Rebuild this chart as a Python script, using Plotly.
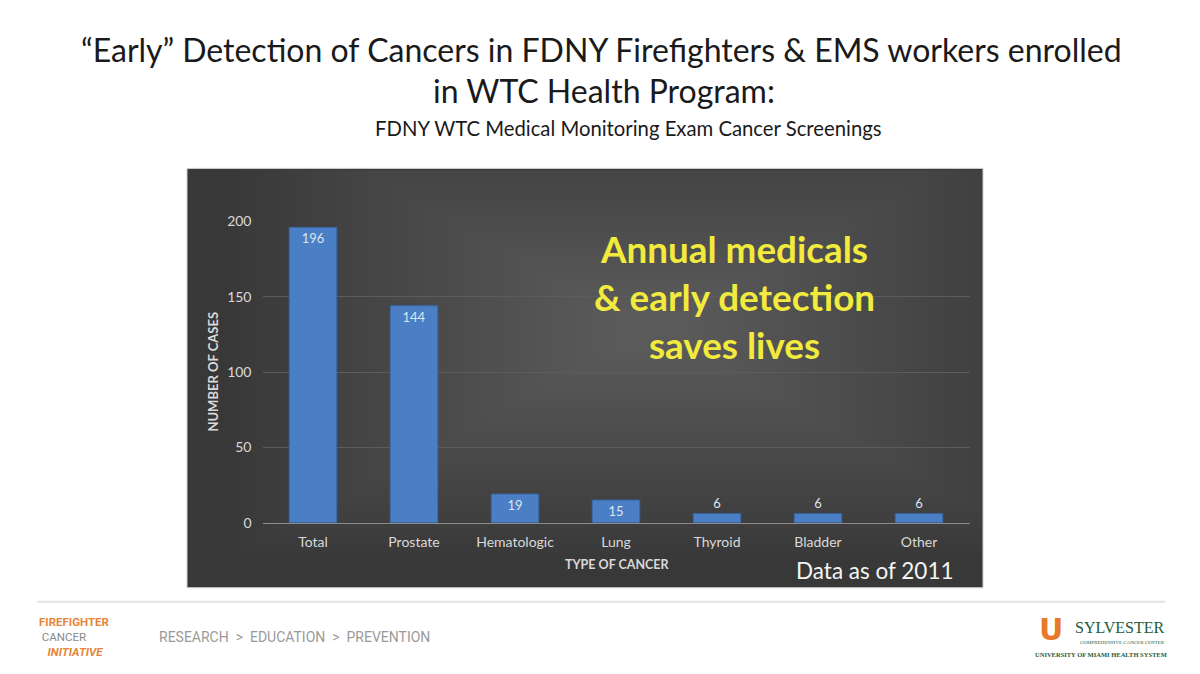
import plotly.graph_objects as go

categories = ["Total", "Prostate", "Hematologic", "Lung", "Thyroid", "Bladder", "Other"]
cases = [196, 144, 19, 15, 6, 6, 6]
y_ticks = [0, 50, 100, 150, 200]

# page geometry: the body adds a margin around the figure and the capture is
# slightly compressed vertically, so map target page pixels to figure pixels
OFF_X = 8
KY, TY = 0.9734, 18.2
W, H = 1184, 658

def px(x):
    return (x - OFF_X) / W

def py(y):
    f = y / KY - TY
    return (H - f) / H

fig = go.Figure()

text_pos = ["inside" if v >= 12 else "outside" for v in cases]

fig.add_trace(go.Bar(
    x=categories,
    y=cases,
    text=[str(v) for v in cases],
    textposition=text_pos,
    insidetextanchor="end",
    textangle=0,
    constraintext="none",
    cliponaxis=False,
    textfont=dict(family="Lato", size=13, color="#dce4ef"),
    marker=dict(color="#4a7fc6", line=dict(color="#3a68a8", width=1)),
    width=0.47,
    hoverinfo="x+y",
))

shapes = []
# dark chart panel with soft radial-ish highlight
x0, y0, x1, y1 = 187, 169, 983, 588
shapes.append(dict(type="rect", xref="paper", yref="paper", layer="below",
                   x0=px(x0), x1=px(x1), y0=py(y1), y1=py(y0),
                   fillcolor="#383838", line=dict(color="#d0d0d0", width=1)))
cx, cy = 650, 330
steps = 34
for i in range(steps):
    hw = 420 - i * 11.5
    hh = 230 - i * 6.3
    shapes.append(dict(type="rect", xref="paper", yref="paper", layer="below",
                       x0=px(max(x0 + 1, cx - hw)), x1=px(min(x1 - 1, cx + hw)),
                       y0=py(min(y1 - 1, cy + hh)), y1=py(max(y0 + 1, cy - hh)),
                       fillcolor="#ffffff", opacity=0.0095, line=dict(width=0)))
# footer separator line
shapes.append(dict(type="line", xref="paper", yref="paper",
                   x0=px(37), x1=px(1165), y0=py(602), y1=py(602),
                   line=dict(color="#e3e3e3", width=2)))

annotations = [
    dict(text="\u201cEarly\u201d Detection of Cancers in FDNY Firefighters &amp; EMS workers enrolled",
         x=px(601), y=py(50), font=dict(family="Lato", size=32, color="#1a1a1a")),
    dict(text="in WTC Health Program:",
         x=px(604), y=py(91), font=dict(family="Lato", size=32, color="#1a1a1a")),
    dict(text="FDNY WTC Medical Monitoring Exam Cancer Screenings",
         x=px(628), y=py(129), font=dict(family="Lato", size=20.3, color="#1a1a1a")),
    dict(text="<b>Annual medicals<br>&amp; early detection<br>saves lives</b>",
         x=px(734), y=py(297), font=dict(family="Lato", size=36.8, color="#f2ea3c"),
         align="center"),
    dict(text="<b>NUMBER OF CASES</b>", textangle=-90,
         x=px(213), y=py(372), font=dict(family="Lato", size=13, color="#d9d9d9")),
    dict(text="<b>TYPE OF CANCER</b>",
         x=px(617), y=py(565), font=dict(family="Lato", size=12.5, color="#d9d9d9")),
    dict(text="Data as of 2011",
         x=px(875), y=py(571), font=dict(family="Lato", size=22.5, color="#f4f4f4")),
    dict(text=("<b><span style='color:#e8843a'>FIREFIGHTER</span></b><br>"
               "&nbsp;<span style='color:#8a8a8a'>CANCER</span><br>"
               "&nbsp;&nbsp;&nbsp;<b><i><span style='color:#e8843a'>INITIATIVE</span></i></b>"),
         x=px(37), y=py(637), xanchor="left", align="left",
         font=dict(family="Roboto", size=11.5, color="#e8843a")),
    dict(text="RESEARCH  &gt;  EDUCATION  &gt;  PREVENTION", x=px(157), y=py(637), xanchor="left",
         font=dict(family="Roboto", size=14, color="#9a9a9a")),
    dict(text="<b>U</b>", x=px(1051), y=py(630),
         font=dict(family="DejaVu Sans", size=30, color="#e8792a")),
    dict(text="SYLVESTER", x=px(1073), y=py(628), xanchor="left",
         font=dict(family="Liberation Serif", size=16, color="#1e5b3a")),
    dict(text="COMPREHENSIVE CANCER CENTER", x=px(1078), y=py(643), xanchor="left",
         font=dict(family="Liberation Serif", size=5, color="#1e5b3a")),
    dict(text="<b>UNIVERSITY OF MIAMI HEALTH SYSTEM</b>", x=px(1033), y=py(655), xanchor="left",
         font=dict(family="Liberation Serif", size=6.5, color="#1e5b3a")),
]
for a in annotations:
    a.update(xref="paper", yref="paper", showarrow=False)
    a.setdefault("xanchor", "center")
    a.setdefault("yanchor", "middle")

fig.update_layout(
    width=W, height=H,
    margin=dict(l=0, r=0, t=0, b=0),
    paper_bgcolor="#ffffff",
    plot_bgcolor="rgba(0,0,0,0)",
    showlegend=False,
    shapes=shapes,
    annotations=annotations,
    xaxis=dict(
        domain=[px(262.5), px(969.5)],
        showgrid=False, zeroline=False,
        showline=True, linecolor="#8c8c8c", linewidth=1,
        tickfont=dict(family="Lato", size=14, color="#d9d9d9"),
        ticks="", ticklabelstandoff=7,
        fixedrange=True,
    ),
    yaxis=dict(
        domain=[py(523), py(222)],
        range=[0, 200],
        tickvals=y_ticks,
        showgrid=True, gridcolor="#5c5c5c", gridwidth=1,
        zeroline=False, showline=False,
        tickfont=dict(family="Lato", size=14, color="#d9d9d9"),
        ticks="", ticklabelstandoff=10,
        fixedrange=True,
    ),
)

fig.write_html("out.html")
